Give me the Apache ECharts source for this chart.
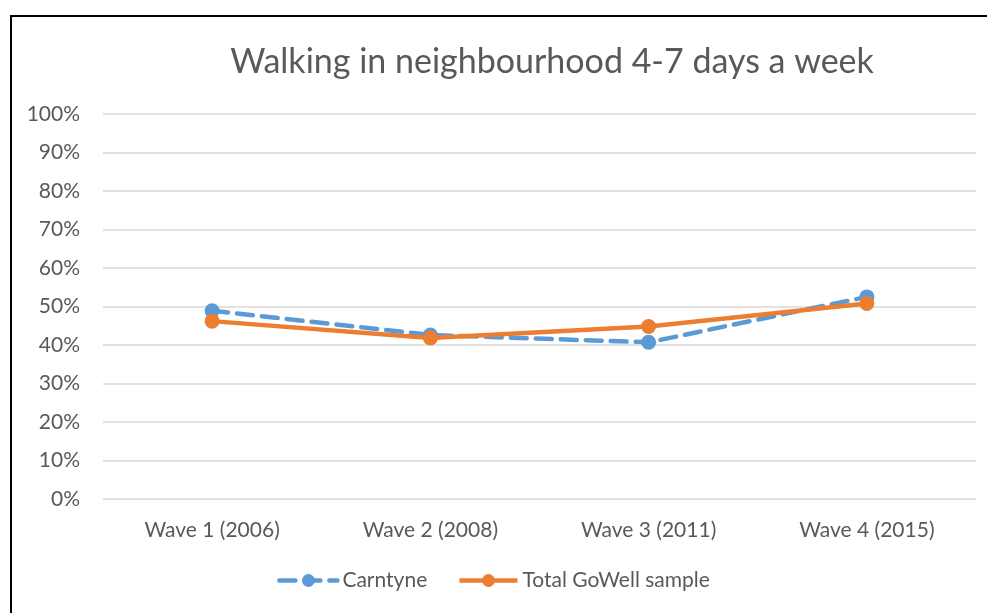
<!DOCTYPE html>
<html>
<head>
<meta charset="utf-8">
<script src="https://cdn.jsdelivr.net/npm/echarts@6/dist/echarts.min.js"></script>
<style>
    body { margin: 0; background: #fff; }
    #main { width: 987px; height: 613px; }
    #frame {
        position: absolute; left: 10px; top: 15px;
        width: 1000px; height: 700px;
        border: 2px solid #000; pointer-events: none;
    }
</style>
</head>
<body>
<div id="main"></div>
<div id="frame"></div>
<script>
// 数据
var waves = ['Wave 1 (2006)', 'Wave 2 (2008)', 'Wave 3 (2011)', 'Wave 4 (2015)'];
var carntyne = [48.9, 42.6, 40.7, 52.5];
var totalGoWell = [46.2, 41.8, 44.8, 50.8];

var mycharts = echarts.init(document.getElementById('main'));
var txt = '#595959';
var font = 'Lato';

var option = {
    animation: false,
    title: {
        text: 'Walking in neighbourhood 4-7 days a week',
        left: 547, textAlign: 'center', top: 40,
        textStyle: { fontFamily: font, fontSize: 34, fontWeight: 'normal', color: txt }
    },
    legend: {
        bottom: 17, left: 'center',
        itemWidth: 58, itemHeight: 16, itemGap: 30,
        lineStyle: { width: 4.5 },
        textStyle: { fontFamily: font, fontSize: 21, color: txt },
        data: ['Carntyne', 'Total GoWell sample']
    },
    grid: { left: 103, right: 11, top: 114, bottom: 114 },
    xAxis: {
        type: 'category',
        data: waves,
        axisLine: { show: false },
        axisTick: { show: false },
        axisLabel: { fontFamily: font, fontSize: 21, color: txt, margin: 21 }
    },
    yAxis: {
        type: 'value', min: 0, max: 100, interval: 10,
        axisLabel: { formatter: '{value}%', fontFamily: font, fontSize: 21, color: txt, margin: 23 },
        splitLine: { lineStyle: { color: '#d9d9d9', width: 1.5 } }
    },
    series: [
        {
            name: 'Carntyne', type: 'line', data: carntyne,
            symbol: 'circle', symbolSize: 15,
            itemStyle: { color: '#5b9bd5' },
            lineStyle: { width: 4.5, type: [16, 9], cap: 'round' }
        },
        {
            name: 'Total GoWell sample', type: 'line', data: totalGoWell,
            symbol: 'circle', symbolSize: 15,
            itemStyle: { color: '#ed7d31' },
            lineStyle: { width: 4.5 }
        }
    ]
};
mycharts.setOption(option);
</script>
</body>
</html>
